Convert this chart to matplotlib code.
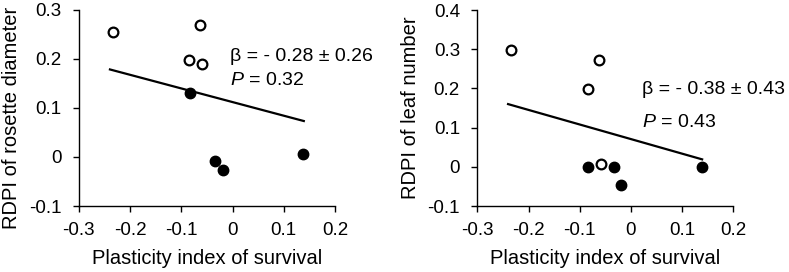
import matplotlib
matplotlib.use('Agg')
import matplotlib.pyplot as plt

plt.rcParams['font.family'] = ['Liberation Sans', 'DejaVu Sans']
plt.rcParams['mathtext.fontset'] = 'custom'
plt.rcParams['mathtext.rm'] = 'Liberation Sans'
plt.rcParams['mathtext.it'] = 'Liberation Sans:italic'

# Panel izquierdo: diámetro de roseta
open_x_ros = [-0.234, -0.063, -0.084, -0.059]
open_y_ros = [0.254, 0.268, 0.197, 0.190]
fill_x_ros = [-0.083, -0.034, -0.018, 0.138]
fill_y_ros = [0.130, -0.008, -0.026, 0.005]
fit_x_ros = [-0.239, 0.139]
fit_y_ros = [0.178, 0.073]

# Panel derecho: número de hojas
open_x_leaf = [-0.235, -0.062, -0.083, -0.058]
open_y_leaf = [0.298, 0.272, 0.198, 0.006]
fill_x_leaf = [-0.083, -0.033, -0.019, 0.139]
fill_y_leaf = [0.000, 0.000, -0.046, 0.000]
fit_x_leaf = [-0.240, 0.139]
fit_y_leaf = [0.160, 0.019]

xticks = [-0.3, -0.2, -0.1, 0, 0.1, 0.2]
xlabels = ['-0.3', '-0.2', '-0.1', '0', '0.1', '0.2']
yticks_ros = [-0.1, 0, 0.1, 0.2, 0.3]
ylabels_ros = ['-0.1', '0', '0.1', '0.2', '0.3']
yticks_leaf = [-0.1, 0, 0.1, 0.2, 0.3, 0.4]
ylabels_leaf = ['-0.1', '0', '0.1', '0.2', '0.3', '0.4']

TICK_FS = 13.5
LABEL_FS = 14.5
TEXT_FS = 14

fig = plt.figure(figsize=(7.89, 2.72), dpi=100)
ax1 = fig.add_axes([0.0997, 0.2426, 0.325, 0.7224])
ax2 = fig.add_axes([0.605, 0.2426, 0.3245, 0.7206])


def style_axis(ax, yticks, ylabels, ylabel, ylab_pos):
    ax.set_xlim(-0.3, 0.2)
    ax.set_ylim(yticks[0], yticks[-1])
    ax.set_xticks(xticks)
    ax.set_xticklabels(xlabels)
    ax.set_yticks(yticks)
    ax.set_yticklabels(ylabels)
    ax.spines['top'].set_visible(False)
    ax.spines['right'].set_visible(False)
    for s in ['left', 'bottom']:
        ax.spines[s].set_linewidth(1.0)
    ax.tick_params(direction='out', length=4.5, width=1.0, labelsize=TICK_FS)
    ax.tick_params(axis='x', pad=7)
    ax.tick_params(axis='y', pad=8)
    ax.set_xlabel('Plasticity index of survival', fontsize=LABEL_FS, va='baseline')
    ax.xaxis.set_label_coords(0.5, -0.295)
    ax.set_ylabel(ylabel, fontsize=LABEL_FS, va='baseline')
    ax.yaxis.set_label_coords(*ylab_pos)


# Panel izquierdo
ax1.plot(fit_x_ros, fit_y_ros, color='black', linewidth=1.6, zorder=1)
ax1.plot(open_x_ros, open_y_ros, 'o', markersize=7, markerfacecolor='white',
         markeredgecolor='black', markeredgewidth=1.6, zorder=2)
ax1.plot(fill_x_ros, fill_y_ros, 'o', markersize=7.5, color='black', zorder=2)
ax1.text(-0.005, 0.204, 'β = - 0.28 ± 0.26', fontsize=TEXT_FS, va='center', ha='left')
ax1.text(-0.005, 0.156, '$\\mathit{P}$ = 0.32', fontsize=TEXT_FS, va='center', ha='left')
style_axis(ax1, yticks_ros, ylabels_ros, 'RDPI of rosette diameter', (-0.241, 0.448))

# Panel derecho
ax2.plot(fit_x_leaf, fit_y_leaf, color='black', linewidth=1.6, zorder=1)
ax2.plot(open_x_leaf, open_y_leaf, 'o', markersize=7, markerfacecolor='white',
         markeredgecolor='black', markeredgewidth=1.6, zorder=2)
ax2.plot(fill_x_leaf, fill_y_leaf, 'o', markersize=7.5, color='black', zorder=2)
ax2.text(0.022, 0.198, 'β = - 0.38 ± 0.43', fontsize=TEXT_FS, va='center', ha='left')
ax2.text(0.022, 0.114, '$\\mathit{P}$ = 0.43', fontsize=TEXT_FS, va='center', ha='left')
style_axis(ax2, yticks_leaf, ylabels_leaf, 'RDPI of leaf number', (-0.24, 0.5))

fig.savefig('out.png', dpi=100)
